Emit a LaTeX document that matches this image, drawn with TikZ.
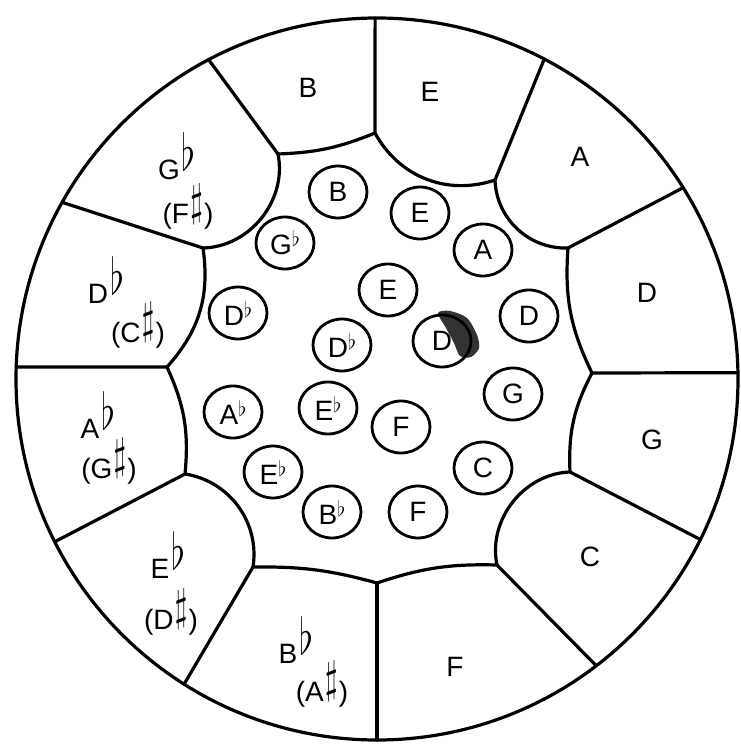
\documentclass[tikz,border=0pt]{standalone}
\usepackage{fontspec}
\usepackage{graphicx}
\setmainfont{Liberation Sans}
\usetikzlibrary{shapes,positioning}

% accidentals
\newcommand{\keyflat}{\hspace{2pt}\raisebox{9pt}{\resizebox{14pt}{38pt}{\raisebox{\depth}{$\flat$}}}}
\newcommand{\keysharp}{\hspace{1pt}\resizebox{13pt}{40pt}{\raisebox{\depth}{$\sharp$}}\hspace{1pt}}
\newcommand{\noteflat}{\raisebox{8pt}{\resizebox{8pt}{16pt}{\raisebox{\depth}{$\flat$}}}}

\begin{document}
\begin{tikzpicture}[
    x=1pt, y=1pt,
    wall/.style={line width=3.2pt, line cap=round, line join=round},
    key/.style={font=\fontsize{28}{32}\selectfont, inner sep=0pt},
    note/.style={ellipse, draw, line width=2.8pt, minimum width=58pt, minimum height=52pt, inner sep=0pt, font=\fontsize{28}{32}\selectfont}
]
\useasboundingbox (-377,-371) rectangle (364,379);

% Inner corners
\coordinate (vDG) at (215,6);
\coordinate (vAD) at (191,131);
\coordinate (vEA) at (118,199);
\coordinate (vBE) at (-2,246);
\coordinate (vGbB) at (-99,225);
\coordinate (vDbGb) at (-174,131);
\coordinate (vAbDb) at (-210,12);
\coordinate (vEbAb) at (-192,-95);
\coordinate (vBbEb) at (-124,-188);
\coordinate (vFBb) at (0,-204);
\coordinate (vCF) at (120,-186);
\coordinate (vGC) at (193,-93);

% Outer corners
\coordinate (oDG) at (1:361);
\coordinate (oAD) at (32:361);
\coordinate (oEA) at (62.4:361);
\coordinate (oBE) at (90.3:361);
\coordinate (oGbB) at (117.8:361);
\coordinate (oDbGb) at (150.7:361);
\coordinate (oAbDb) at (178.1:361);
\coordinate (oEbAb) at (206.8:361);
\coordinate (oBbEb) at (237.7:361);
\coordinate (oFBb) at (270:361);
\coordinate (oCF) at (307.4:361);
\coordinate (oGC) at (333.6:361);

% Outer ring
\draw [wall] (0,0) circle [radius=361];
\draw [wall] (vDG) to[bend left=15] (vAD) to[bend left=45] (vEA)
    to[bend left=40] (vBE) to[bend left=10] (vGbB) to[bend left=50] (vDbGb)
    to[bend left=25] (vAbDb) to[bend left=15] (vEbAb) to[bend left=45] (vBbEb)
    to[bend left=8] (vFBb) to[bend left=10] (vCF) to[bend left=50] (vGC)
    to[bend left=15] (vDG);

% Dividers
\draw [wall] (vDG) -- (oDG);
\draw [wall] (vAD) -- (oAD);
\draw [wall] (vEA) -- (oEA);
\draw [wall] (vBE) -- (oBE);
\draw [wall] (vGbB) -- (oGbB);
\draw [wall] (vDbGb) -- (oDbGb);
\draw [wall] (vAbDb) -- (oAbDb);
\draw [wall] (vEbAb) -- (oEbAb);
\draw [wall] (vBbEb) -- (oBbEb);
\draw [wall] (vFBb) -- (oFBb);
\draw [wall] (vCF) -- (oCF);
\draw [wall] (vGC) -- (oGC);

% Key names
\node [key] (kB) at (-69,291) {B};
\node [key] (kE) at (53,287) {E};
\node [key] (kA) at (203,222) {A};
\node [key] (kD) at (270,86) {D};
\node [key] (kG) at (275,-61) {G};
\node [key] (kC) at (213,-178) {C};
\node [key] (kF) at (78,-288) {F};
\node [key, anchor=base] (kBb) at (-81,-284) {B\keyflat};
\node [key, anchor=base] (kAs) at (-55,-322) {(A\keysharp)};
\node [key, anchor=base] (kEb) at (-209,-199) {E\keyflat};
\node [key, anchor=base] (kDs) at (-206,-250) {(D\keysharp)};
\node [key, anchor=base] (kAb) at (-279,-59) {A\keyflat};
\node [key, anchor=base] (kGs) at (-268,-99) {(G\keysharp)};
\node [key, anchor=base] (kDb) at (-271,76) {D\keyflat};
\node [key, anchor=base] (kCs) at (-239,37) {(C\keysharp)};
\node [key, anchor=base] (kGb) at (-200,199) {G\keyflat};
\node [key, anchor=base] (kFs) at (-189,155) {(F\keysharp)};

% Smudge
\fill [black!80] plot [smooth cycle] coordinates {(61,66) (73,68) (90,61) (100,44) (102,31) (94,22) (83,23) (77,36) (69,51)};

% Note pads
\node [note] (nB) at (-39,187) {B};
\node [note] (nE) at (43,166) {E};
\node [note] (nA) at (106,129) {A};
\node [note] (nGb) at (-92,136) {G\noteflat};
\node [note] (nEc) at (11,89) {E};
\node [note] (nD) at (152,63) {D};
\node [note] (nDb) at (-139,66) {D\noteflat};
\node [note] (nDbc) at (-35,34) {D\noteflat};
\node [note] (nDc) at (65,38) {D};
\node [note] (nG) at (136,-15) {G};
\node [note] (nAb) at (-144,-33) {A\noteflat};
\node [note] (nEbc) at (-49,-29) {E\noteflat};
\node [note] (nFc) at (24,-48) {F};
\node [note] (nC) at (106,-89) {C};
\node [note] (nEb) at (-104,-93) {E\noteflat};
\node [note] (nBb) at (-45,-133) {B\noteflat};
\node [note] (nF) at (41,-133) {F};

\end{tikzpicture}
\end{document}
